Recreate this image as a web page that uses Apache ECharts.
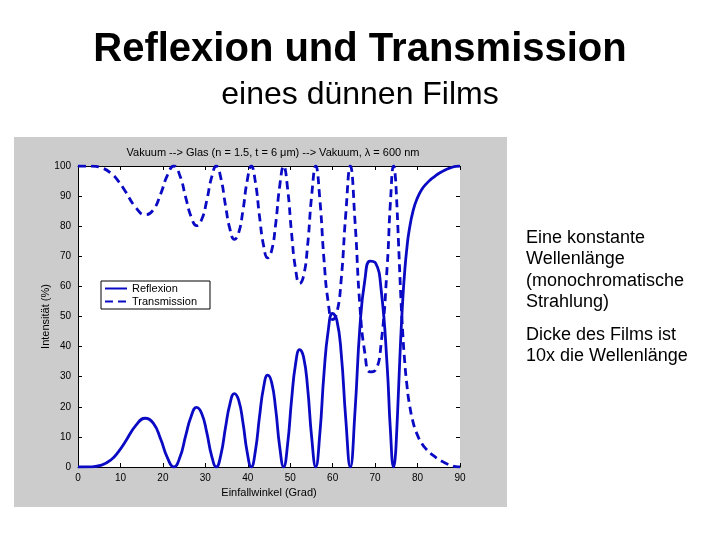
<!DOCTYPE html>
<html>
<head>
<meta charset="utf-8">
<script src="https://cdn.jsdelivr.net/npm/echarts@6/dist/echarts.min.js"></script>
<style>
html,body{margin:0;padding:0;background:#fff;}
#chart{width:720px;height:540px;}
</style>
</head>
<body>
<div id="chart"></div>
<script>
// Einfallwinkel (Grad)
var angles = [0, 3.0, 5.55, 7.86, 9.64, 11.14, 13.68, 15.83, 17.73, 19.47, 21.08, 22.58,
  24.01, 25.37, 26.67, 27.93, 29.14, 30.32, 31.47, 32.58,
  33.67, 34.75, 35.80, 36.83, 37.85, 38.86, 39.85, 40.83,
  41.80, 42.77, 43.73, 44.68, 45.62, 46.57, 47.51, 48.45,
  49.38, 50.32, 51.26, 52.21, 53.15, 54.10, 55.05, 56.01,
  56.98, 57.96, 58.95, 59.96, 60.98, 62.02, 63.08, 64.16,
  65.27, 66.41, 67.59, 68.80, 70.09, 71.43, 72.86, 73.60, 74.37,
  74.7, 75.0, 75.5, 76.0, 76.5, 77.0, 77.5, 78.0, 79, 80, 81, 82, 83, 84, 85, 86, 87, 88, 89, 90];
// Reflexion (%)
var reflexion = [0, 0.05, 0.6, 2.5, 5.3, 8.4, 13.9, 16.2, 14.6, 9.3, 3.0, 0,
  3.2, 10.4, 16.9, 19.8, 17.8, 11.6, 3.8, 0,
  4.1, 13.1, 21.0, 24.4, 22.2, 14.8, 5.0, 0,
  5.4, 16.8, 26.5, 30.5, 28.1, 19.3, 6.8, 0,
  7.5, 22.4, 34.2, 39.0, 36.5, 26.3, 9.9, 0,
  11.1, 31.2, 45.3, 51.0, 48.8, 37.6, 16.1, 0,
  18.6, 46.4, 62.2, 68.4, 67.8, 58.8, 33.0, 12.3, 0,
  2.5, 9.1, 25.0, 41.6, 55.2, 65.5, 72.9, 78.4, 85.4, 89.5, 92.2, 94.0, 95.4, 96.5, 97.5, 98.3, 99.0, 99.5, 99.9, 100];
// Transmission (%)
var transmission = [100, 99.95, 99.4, 97.5, 94.7, 91.6, 86.1, 83.8, 85.4, 90.7, 97.0, 100,
  96.8, 89.6, 83.1, 80.2, 82.2, 88.4, 96.2, 100,
  95.9, 86.9, 79.0, 75.6, 77.8, 85.2, 95.0, 100,
  94.6, 83.2, 73.5, 69.5, 71.9, 80.7, 93.2, 100,
  92.5, 77.6, 65.8, 61.0, 63.5, 73.7, 90.1, 100,
  88.9, 68.8, 54.7, 49.0, 51.2, 62.4, 83.9, 100,
  81.4, 53.6, 37.8, 31.6, 32.2, 41.2, 67.0, 87.7, 100,
  97.5, 90.9, 75.0, 58.4, 44.8, 34.5, 27.1, 21.6, 14.6, 10.5, 7.8, 6.0, 4.6, 3.5, 2.5, 1.7, 1.0, 0.5, 0.1, 0];
var xTicks = [0, 10, 20, 30, 40, 50, 60, 70, 80, 90];
var yTicks = [0, 10, 20, 30, 40, 50, 60, 70, 80, 90, 100];
var seriesNames = ['Reflexion', 'Transmission'];
var plotTitle = 'Vakuum --> Glas (n = 1.5, t = 6 \u03bcm) --> Vakuum, \u03bb = 600 nm';

var FONT = '"Liberation Sans", Arial, Helvetica, sans-serif';
var BLUE = '#0a0ac4';

function pairs(xs, ys) { return xs.map(function (x, i) { return [x, ys[i]]; }); }
function ticks() { return {show: true, inside: true, length: 4, lineStyle: {color: '#000', width: 1}}; }
function line(show) { return {show: show, onZero: false, lineStyle: {color: '#000', width: 1}}; }

var chart = echarts.init(document.getElementById('chart'), null, {renderer: 'canvas'});
chart.setOption({
  animation: false,
  backgroundColor: '#fff',
  graphic: [
    {type: 'rect', z: -10, silent: true,
     shape: {x: 14, y: 137, width: 493, height: 370},
     style: {fill: '#cccccc'}},
    {type: 'rect', z: -9, silent: true,
     shape: {x: 78, y: 166, width: 382, height: 301},
     style: {fill: '#ffffff'}}
  ],
  title: [
    {text: 'Reflexion und Transmission', left: 'center', top: 25,
     textStyle: {fontFamily: FONT, fontSize: 40, fontWeight: 'bold', color: '#000'}},
    {text: 'eines d\u00fcnnen Films', left: 'center', top: 74,
     textStyle: {fontFamily: FONT, fontSize: 32, fontWeight: 'normal', color: '#000'}},
    {text: plotTitle, left: 268, top: 142, textAlign: 'center',
     textStyle: {fontFamily: FONT, fontSize: 11, fontWeight: 'normal', color: '#000'}},
    {text: 'Eine konstante\nWellenl\u00e4nge\n(monochromatische\nStrahlung)', left: 521, top: 222,
     textStyle: {fontFamily: FONT, fontSize: 18, fontWeight: 'normal', color: '#000', lineHeight: 21.5}},
    {text: 'Dicke des Films ist\n10x die Wellenl\u00e4nge', left: 521, top: 319,
     textStyle: {fontFamily: FONT, fontSize: 18, fontWeight: 'normal', color: '#000', lineHeight: 21.5}}
  ],
  grid: {left: 78, right: 260, top: 166, bottom: 73, show: false},
  legend: {
    data: seriesNames, orient: 'vertical', left: 101, top: 281,
    itemWidth: 22, itemHeight: 13, itemGap: 2, padding: [2, 13, 2, 3],
    backgroundColor: '#fff', borderColor: '#000', borderWidth: 1, borderRadius: 0,
    itemStyle: {opacity: 0},
    textStyle: {fontFamily: FONT, fontSize: 11, color: '#000'}
  },
  xAxis: [
    {type: 'value', min: xTicks[0], max: xTicks[xTicks.length - 1], interval: 10, position: 'bottom',
     name: 'Einfallwinkel (Grad)', nameLocation: 'middle', nameGap: 20,
     nameTextStyle: {fontFamily: FONT, fontSize: 11, color: '#000'},
     axisLine: line(true), axisTick: ticks(), splitLine: {show: false},
     axisLabel: {fontFamily: FONT, fontSize: 10, color: '#000', margin: 6}},
    {type: 'value', min: xTicks[0], max: xTicks[xTicks.length - 1], interval: 10, position: 'top',
     axisLine: line(true), axisTick: ticks(), splitLine: {show: false},
     axisLabel: {show: false}}
  ],
  yAxis: [
    {type: 'value', min: yTicks[0], max: yTicks[yTicks.length - 1], interval: 10, position: 'left',
     name: 'Intensit\u00e4t (%)', nameLocation: 'middle', nameGap: 27, nameMoveOverlap: false,
     nameTextStyle: {fontFamily: FONT, fontSize: 11, color: '#000'},
     axisLine: line(true), axisTick: ticks(), splitLine: {show: false},
     axisLabel: {fontFamily: FONT, fontSize: 10, color: '#000', margin: 7}},
    {type: 'value', min: yTicks[0], max: yTicks[yTicks.length - 1], interval: 10, position: 'right',
     axisLine: line(false), axisTick: ticks(), splitLine: {show: false},
     axisLabel: {show: false}}
  ],
  series: [
    {name: seriesNames[0], type: 'line', data: pairs(angles, reflexion),
     showSymbol: false, symbol: 'none', smooth: 0.5, clip: true,
     lineStyle: {color: BLUE, width: 2.8, type: 'solid'}, itemStyle: {color: BLUE}},
    {name: seriesNames[1], type: 'line', data: pairs(angles, transmission),
     showSymbol: false, symbol: 'none', smooth: 0.5, clip: true,
     lineStyle: {color: BLUE, width: 2.8, type: [8, 5]}, itemStyle: {color: BLUE}}
  ]
});
</script>
</body>
</html>
